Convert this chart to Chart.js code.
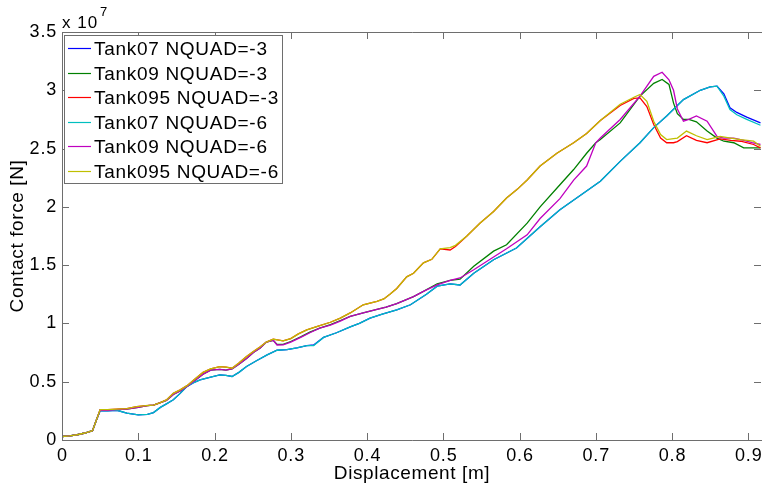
<!DOCTYPE html>
<html lang="en">
<head>
<meta charset="UTF-8">
<title>Contact force vs displacement</title>
<script src="https://cdn.jsdelivr.net/npm/chart.js"></script>
<style>
    body { margin: 0; padding: 0; background: #fff; }
    #wrap { width: 762px; height: 486px; position: relative; }
</style>
</head>
<body>
<div id="wrap"><canvas id="chart"></canvas></div>
<script>
// displacement [m] and contact force [x 10^7 N]
const xTank07 = [0, 0.01, 0.02, 0.03, 0.04, 0.045, 0.05, 0.06, 0.072, 0.085, 0.1, 0.112, 0.12, 0.129, 0.137, 0.146, 0.155, 0.164, 0.172, 0.181, 0.195, 0.207, 0.215, 0.223, 0.232, 0.242, 0.255, 0.269, 0.282, 0.295, 0.308, 0.321, 0.33, 0.343, 0.36, 0.378, 0.39, 0.404, 0.42, 0.439, 0.457, 0.478, 0.492, 0.509, 0.522, 0.54, 0.566, 0.596, 0.627, 0.653, 0.68, 0.706, 0.732, 0.758, 0.776, 0.793, 0.815, 0.837, 0.85, 0.859, 0.868, 0.876, 0.885, 0.898, 0.916];
const tank07q3 = [0.03, 0.035, 0.045, 0.06, 0.08, 0.17, 0.25, 0.25, 0.255, 0.23, 0.215, 0.22, 0.235, 0.28, 0.31, 0.345, 0.40, 0.46, 0.49, 0.515, 0.54, 0.558, 0.555, 0.545, 0.58, 0.63, 0.68, 0.73, 0.77, 0.775, 0.79, 0.81, 0.815, 0.88, 0.92, 0.97, 1.0, 1.045, 1.08, 1.117, 1.16, 1.25, 1.32, 1.34, 1.33, 1.43, 1.546, 1.647, 1.83, 1.976, 2.10, 2.22, 2.39, 2.55, 2.68, 2.78, 2.92, 3.0, 3.03, 3.035, 2.97, 2.85, 2.81, 2.77, 2.72];
const tank07q6 = [0.03, 0.035, 0.045, 0.06, 0.08, 0.17, 0.25, 0.25, 0.255, 0.23, 0.215, 0.22, 0.235, 0.28, 0.31, 0.345, 0.40, 0.46, 0.49, 0.515, 0.54, 0.558, 0.555, 0.545, 0.58, 0.63, 0.68, 0.73, 0.77, 0.775, 0.79, 0.81, 0.81, 0.88, 0.92, 0.97, 1.0, 1.045, 1.08, 1.117, 1.16, 1.25, 1.32, 1.34, 1.33, 1.43, 1.546, 1.647, 1.83, 1.976, 2.10, 2.22, 2.39, 2.55, 2.68, 2.78, 2.92, 3.0, 3.03, 3.035, 2.95, 2.835, 2.79, 2.75, 2.70];

const xTank09 = [0, 0.01, 0.02, 0.03, 0.04, 0.045, 0.05, 0.06, 0.072, 0.085, 0.1, 0.112, 0.12, 0.129, 0.137, 0.146, 0.155, 0.164, 0.172, 0.185, 0.195, 0.207, 0.215, 0.223, 0.232, 0.242, 0.251, 0.26, 0.268, 0.277, 0.282, 0.29, 0.30, 0.313, 0.325, 0.338, 0.352, 0.365, 0.378, 0.395, 0.413, 0.425, 0.439, 0.45, 0.461, 0.474, 0.492, 0.509, 0.522, 0.54, 0.566, 0.583, 0.61, 0.627, 0.653, 0.671, 0.688, 0.70, 0.706, 0.732, 0.758, 0.776, 0.787, 0.796, 0.802, 0.807, 0.815, 0.822, 0.832, 0.846, 0.859, 0.868, 0.881, 0.894, 0.905, 0.916];
const tank09q3 = [0.03, 0.035, 0.045, 0.06, 0.08, 0.17, 0.255, 0.255, 0.26, 0.265, 0.28, 0.295, 0.30, 0.32, 0.34, 0.39, 0.42, 0.46, 0.50, 0.565, 0.60, 0.605, 0.60, 0.61, 0.65, 0.70, 0.75, 0.79, 0.84, 0.855, 0.82, 0.82, 0.845, 0.885, 0.925, 0.96, 0.99, 1.025, 1.06, 1.09, 1.12, 1.14, 1.17, 1.20, 1.23, 1.275, 1.34, 1.37, 1.38, 1.49, 1.62, 1.675, 1.86, 2.0, 2.19, 2.32, 2.46, 2.55, 2.577, 2.72, 2.95, 3.06, 3.093, 3.05, 2.89, 2.80, 2.75, 2.75, 2.73, 2.65, 2.59, 2.563, 2.55, 2.506, 2.506, 2.506];
const tank09q6 = [0.03, 0.035, 0.045, 0.06, 0.08, 0.17, 0.255, 0.255, 0.26, 0.265, 0.28, 0.295, 0.30, 0.32, 0.34, 0.39, 0.42, 0.46, 0.50, 0.565, 0.60, 0.605, 0.60, 0.61, 0.65, 0.70, 0.75, 0.79, 0.84, 0.855, 0.815, 0.816, 0.84, 0.88, 0.92, 0.96, 0.985, 1.02, 1.06, 1.09, 1.12, 1.14, 1.17, 1.20, 1.23, 1.275, 1.33, 1.37, 1.39, 1.46, 1.57, 1.64, 1.76, 1.90, 2.07, 2.23, 2.35, 2.55, 2.59, 2.75, 2.95, 3.12, 3.155, 3.09, 3.0, 2.84, 2.735, 2.75, 2.78, 2.735, 2.605, 2.59, 2.59, 2.57, 2.55, 2.535];

const xTank095 = [0, 0.01, 0.02, 0.03, 0.04, 0.045, 0.05, 0.06, 0.072, 0.085, 0.098, 0.11, 0.12, 0.129, 0.137, 0.146, 0.155, 0.164, 0.172, 0.185, 0.195, 0.207, 0.215, 0.223, 0.232, 0.242, 0.251, 0.26, 0.268, 0.277, 0.29, 0.30, 0.31, 0.321, 0.335, 0.352, 0.365, 0.378, 0.395, 0.413, 0.422, 0.43, 0.439, 0.452, 0.461, 0.474, 0.485, 0.496, 0.509, 0.516, 0.531, 0.548, 0.566, 0.583, 0.597, 0.61, 0.627, 0.649, 0.671, 0.688, 0.706, 0.732, 0.75, 0.758, 0.767, 0.776, 0.785, 0.793, 0.802, 0.807, 0.819, 0.832, 0.846, 0.863, 0.877, 0.89, 0.907, 0.916];
const tank095q3 = [0.03, 0.035, 0.045, 0.06, 0.08, 0.17, 0.26, 0.26, 0.265, 0.27, 0.286, 0.295, 0.30, 0.32, 0.344, 0.40, 0.43, 0.466, 0.51, 0.58, 0.61, 0.63, 0.625, 0.616, 0.66, 0.716, 0.76, 0.80, 0.84, 0.865, 0.85, 0.87, 0.91, 0.945, 0.975, 1.01, 1.045, 1.09, 1.16, 1.19, 1.21, 1.25, 1.30, 1.40, 1.43, 1.52, 1.55, 1.64, 1.63, 1.66, 1.75, 1.86, 1.96, 2.076, 2.15, 2.23, 2.35, 2.46, 2.55, 2.63, 2.74, 2.87, 2.93, 2.935, 2.86, 2.706, 2.59, 2.55, 2.55, 2.56, 2.61, 2.57, 2.55, 2.583, 2.57, 2.563, 2.535, 2.506];
const tank095q6 = [0.03, 0.035, 0.045, 0.06, 0.08, 0.17, 0.26, 0.26, 0.265, 0.27, 0.286, 0.295, 0.30, 0.32, 0.344, 0.40, 0.43, 0.466, 0.51, 0.58, 0.61, 0.63, 0.625, 0.616, 0.66, 0.716, 0.76, 0.80, 0.84, 0.865, 0.85, 0.87, 0.91, 0.945, 0.975, 1.01, 1.045, 1.09, 1.16, 1.19, 1.21, 1.25, 1.30, 1.40, 1.43, 1.52, 1.55, 1.64, 1.65, 1.67, 1.75, 1.86, 1.96, 2.076, 2.15, 2.23, 2.35, 2.46, 2.55, 2.63, 2.74, 2.88, 2.94, 2.964, 2.906, 2.735, 2.62, 2.577, 2.585, 2.59, 2.65, 2.61, 2.577, 2.605, 2.59, 2.577, 2.563, 2.52];

const seriesNames = ['Tank07 NQUAD=-3', 'Tank09 NQUAD=-3', 'Tank095 NQUAD=-3', 'Tank07 NQUAD=-6', 'Tank09 NQUAD=-6', 'Tank095 NQUAD=-6'];
const seriesColors = ['#0000ff', '#008000', '#ff0000', '#00bfbf', '#bf00bf', '#bfbf00'];
const xTicks = [0, 0.1, 0.2, 0.3, 0.4, 0.5, 0.6, 0.7, 0.8, 0.9];
const yTicks = [0, 0.5, 1, 1.5, 2, 2.5, 3, 3.5];

const FONT = '"Liberation Sans", Arial, sans-serif';
const AXIS = '#6e6e6e';

function pts(xs, ys) {
    return xs.map((x, i) => ({ x: x, y: ys[i] }));
}

const seriesData = [
    pts(xTank07, tank07q3), pts(xTank09, tank09q3), pts(xTank095, tank095q3),
    pts(xTank07, tank07q6), pts(xTank09, tank09q6), pts(xTank095, tank095q6)
];

// box, inward ticks, tick labels, exponent, axis titles and legend in MATLAB style
const matlabFrame = {
    id: 'matlabFrame',
    afterDraw(chart) {
        const ctx = chart.ctx;
        const a = chart.chartArea;
        const xs = chart.scales.x, ys = chart.scales.y;
        ctx.save();
        ctx.strokeStyle = AXIS;
        ctx.lineWidth = 1;
        ctx.beginPath();
        ctx.moveTo(a.left + 0.5, a.top + 0.5);
        ctx.lineTo(a.right, a.top + 0.5);
        ctx.moveTo(a.left + 0.5, a.top);
        ctx.lineTo(a.left + 0.5, a.bottom + 0.5);
        ctx.lineTo(a.right, a.bottom + 0.5);
        ctx.stroke();
        ctx.beginPath();
        xTicks.forEach(v => {
            const px = Math.round(xs.getPixelForValue(v)) + 0.5;
            ctx.moveTo(px, a.bottom); ctx.lineTo(px, a.bottom - 7);
            ctx.moveTo(px, a.top); ctx.lineTo(px, a.top + 7);
        });
        yTicks.forEach(v => {
            const py = Math.round(ys.getPixelForValue(v)) + 0.5;
            ctx.moveTo(a.left, py); ctx.lineTo(a.left + 7, py);
            ctx.moveTo(a.right - 1, py); ctx.lineTo(a.right - 8, py);
        });
        ctx.stroke();

        ctx.fillStyle = '#000';
        ctx.font = '18px ' + FONT;
        ctx.letterSpacing = '0.8px';
        ctx.textBaseline = 'middle';
        ctx.textAlign = 'center';
        xTicks.forEach(v => {
            ctx.fillText(String(v), xs.getPixelForValue(v) + 0.5, a.bottom + 16);
        });
        ctx.textAlign = 'right';
        yTicks.forEach(v => {
            ctx.fillText(String(v), a.left - 5, ys.getPixelForValue(v));
        });

        // exponent
        ctx.textBaseline = 'alphabetic';
        ctx.textAlign = 'left';
        ctx.font = '17px ' + FONT;
        ctx.letterSpacing = '1px';
        ctx.fillText('x 10', 62, 28);
        ctx.font = '13px ' + FONT;
        ctx.fillText('7', 100, 16);

        // axis titles
        ctx.font = '19px ' + FONT;
        ctx.letterSpacing = '0.6px';
        ctx.textAlign = 'center';
        ctx.textBaseline = 'middle';
        ctx.fillText('Displacement [m]', 412, 474);
        ctx.save();
        ctx.translate(18, 236);
        ctx.rotate(-Math.PI / 2);
        ctx.fillText('Contact force [N]', 0, 0);
        ctx.restore();

        // legend box
        const lx = 64.5, ly = 35.5, lw = 218, lh = 148;
        ctx.fillStyle = '#fff';
        ctx.fillRect(lx, ly, lw, lh);
        ctx.strokeStyle = AXIS;
        ctx.strokeRect(lx, ly, lw, lh);
        ctx.font = '19px ' + FONT;
        ctx.letterSpacing = '0.7px';
        ctx.textAlign = 'left';
        chart.data.datasets.forEach((ds, i) => {
            const y = Math.round(48 + i * 24.5) + 0.5;
            ctx.strokeStyle = ds.borderColor;
            ctx.lineWidth = 1.2;
            ctx.beginPath();
            ctx.moveTo(68, y); ctx.lineTo(91, y);
            ctx.stroke();
            ctx.fillStyle = '#000';
            ctx.fillText(ds.label, 94, y + 1);
        });
        ctx.restore();
    }
};

new Chart(document.getElementById('chart'), {
    type: 'line',
    data: {
        datasets: seriesData.map((d, i) => ({
            label: seriesNames[i],
            data: d,
            borderColor: seriesColors[i],
            backgroundColor: seriesColors[i],
            borderWidth: 1.3,
            pointRadius: 0,
            tension: 0,
            fill: false,
            order: 5 - i
        }))
    },
    options: {
        responsive: true,
        maintainAspectRatio: false,
        animation: false,
        layout: { padding: { top: 32, right: 0, left: 0, bottom: 0 } },
        plugins: { legend: { display: false }, tooltip: { enabled: false } },
        scales: {
            x: {
                type: 'linear',
                min: 0,
                max: 0.918,
                afterBuildTicks: s => { s.ticks = xTicks.map(v => ({ value: v })); },
                afterFit: s => { s.height = 46; },
                grid: { display: false, drawTicks: false },
                border: { display: false },
                ticks: { display: false }
            },
            y: {
                type: 'linear',
                min: 0,
                max: 3.5,
                afterBuildTicks: s => { s.ticks = yTicks.map(v => ({ value: v })); },
                afterFit: s => { s.width = 62; },
                grid: { display: false, drawTicks: false },
                border: { display: false },
                ticks: { display: false }
            }
        }
    },
    plugins: [matlabFrame]
});
</script>
</body>
</html>
